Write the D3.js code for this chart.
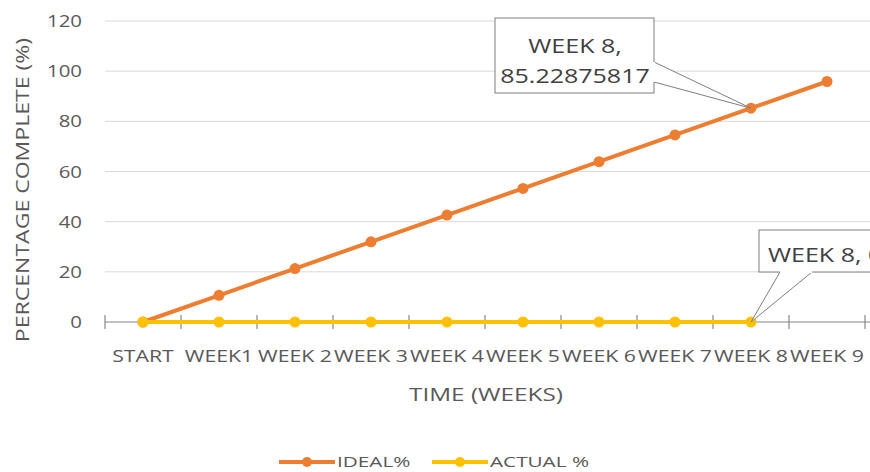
<!DOCTYPE html>
<html>
<head>
<meta charset="utf-8">
<script src="https://cdn.jsdelivr.net/npm/d3@7"></script>
<style>
  body { margin: 0; background: #fff; }
  svg { display: block; font-family: "Open Sans", "Noto Sans", sans-serif; }
</style>
</head>
<body>
<svg id="chart" width="870" height="472"></svg>
<script>
// dati
const CATEGORIES = ["START", "WEEK1", "WEEK 2", "WEEK 3", "WEEK 4",
                    "WEEK 5", "WEEK 6", "WEEK 7", "WEEK 8", "WEEK 9"];
const IDEAL  = [0, 10.65, 21.31, 31.96, 42.61, 53.27, 63.92, 74.58, 85.22875817, 95.88];
const ACTUAL = [0, 0, 0, 0, 0, 0, 0, 0, 0, null];
const Y_TICKS = [0, 20, 40, 60, 80, 100, 120];

const ORANGE = "#ED7D31";
const YELLOW = "#FFC000";
const TEXT   = "#595959";

const svg = d3.select("#chart");

const x = d3.scaleBand().domain(CATEGORIES).range([105, 865]);
const y = d3.scaleLinear().domain([0, 120]).range([322, 21]);
const cx = d => x(d) + x.bandwidth() / 2;

// il font originale è più largo: allarga il testo in orizzontale
function allarga(sel, fattore) {
  sel.each(function() {
    const w = this.getComputedTextLength();
    d3.select(this)
      .attr("textLength", w * fattore)
      .attr("lengthAdjust", "spacingAndGlyphs");
  });
  return sel;
}

/* ── griglia ─── */
svg.append("g")
  .selectAll("line")
  .data(Y_TICKS.filter(t => t > 0))
  .join("line")
  .attr("x1", 105).attr("x2", 870)
  .attr("y1", d => y(d)).attr("y2", d => y(d))
  .attr("stroke", "#d9d9d9").attr("stroke-width", 1);

/* ── asse Y (solo etichette) ─── */
allarga(svg.append("g")
  .selectAll("text")
  .data(Y_TICKS)
  .join("text")
  .attr("x", 82).attr("y", d => y(d) + 6)
  .attr("text-anchor", "end")
  .attr("fill", TEXT).attr("font-size", 17)
  .text(d => d), 1.2);

/* ── asse X ─── */
svg.append("line")
  .attr("x1", 105).attr("x2", 870)
  .attr("y1", y(0)).attr("y2", y(0))
  .attr("stroke", "#868686").attr("stroke-width", 1.2);

const bounds = CATEGORIES.map(c => x(c)).concat([x.range()[1]]);
svg.append("g")
  .selectAll("line")
  .data(bounds)
  .join("line")
  .attr("x1", d => d).attr("x2", d => d)
  .attr("y1", y(0) - 7).attr("y2", y(0) + 7)
  .attr("stroke", "#868686").attr("stroke-width", 1.2);

allarga(svg.append("g")
  .selectAll("text")
  .data(CATEGORIES)
  .join("text")
  .attr("x", d => cx(d)).attr("y", 362)
  .attr("text-anchor", "middle")
  .attr("fill", TEXT).attr("font-size", 17)
  .text(d => d), 1.25);

/* ── titoli assi ─── */
allarga(svg.append("text")
  .attr("x", 486).attr("y", 401)
  .attr("text-anchor", "middle")
  .attr("fill", TEXT).attr("font-size", 18)
  .text("TIME (WEEKS)"), 1.35);

allarga(svg.append("text")
  .attr("transform", "translate(29,190) rotate(-90)")
  .attr("text-anchor", "middle")
  .attr("fill", TEXT).attr("font-size", 18)
  .text("PERCENTAGE  COMPLETE (%)"), 1.28);

/* ── serie ─── */
function drawSeries(values, colore) {
  const pts = CATEGORIES.map((c, i) => ({ c, v: values[i] })).filter(p => p.v !== null);
  const line = d3.line().x(p => cx(p.c)).y(p => y(p.v));
  const g = svg.append("g");
  g.append("path")
    .datum(pts)
    .attr("d", line)
    .attr("fill", "none")
    .attr("stroke", colore).attr("stroke-width", 4)
    .attr("stroke-linecap", "round");
  g.selectAll("circle")
    .data(pts)
    .join("circle")
    .attr("cx", p => cx(p.c)).attr("cy", p => y(p.v))
    .attr("r", 5.5)
    .attr("fill", colore);
}
drawSeries(IDEAL, ORANGE);
drawSeries(ACTUAL, YELLOW);

/* ── callout ─── */
function callout(box, wedge, target, lines) {
  const g = svg.append("g");
  const [tx, ty] = target;
  g.append("path")
    .attr("d", `M${wedge[0][0]},${wedge[0][1]}L${tx},${ty}L${wedge[1][0]},${wedge[1][1]}`)
    .attr("fill", "#fff").attr("stroke", "#7f7f7f").attr("stroke-width", 1);
  g.append("rect")
    .attr("x", box.x).attr("y", box.y).attr("width", box.w).attr("height", box.h)
    .attr("fill", "#fff").attr("stroke", "#7f7f7f").attr("stroke-width", 1);
  // copre il bordo dove si attacca il cuneo
  g.append("line")
    .attr("x1", wedge[0][0]).attr("y1", wedge[0][1])
    .attr("x2", wedge[1][0]).attr("y2", wedge[1][1])
    .attr("stroke", "#fff").attr("stroke-width", 2);
  lines.forEach(l => {
    allarga(g.append("text")
      .attr("x", l.x).attr("y", l.y)
      .attr("text-anchor", l.anchor || "middle")
      .attr("fill", "#404040").attr("font-size", 20)
      .text(l.t), 1.25);
  });
}

const p8i = [cx("WEEK 8"), y(IDEAL[8])];
callout({ x: 495, y: 18, w: 159, h: 75 },
        [[654, 62], [654, 82]], p8i,
        [{ t: "WEEK 8,", x: 575, y: 53 }, { t: "85.22875817", x: 575, y: 83 }]);

const p8a = [cx("WEEK 8"), y(ACTUAL[8])];
callout({ x: 759, y: 230, w: 130, h: 42 },
        [[780, 272], [812, 272]], p8a,
        [{ t: "WEEK 8, 0", x: 768, y: 262, anchor: "start" }]);

/* ── legenda ─── */
const legend = [
  { nome: "IDEAL%", colore: ORANGE, x0: 279 },
  { nome: "ACTUAL %", colore: YELLOW, x0: 432 }
];
const lg = svg.append("g");
legend.forEach(l => {
  lg.append("line")
    .attr("x1", l.x0).attr("x2", l.x0 + 56)
    .attr("y1", 462).attr("y2", 462)
    .attr("stroke", l.colore).attr("stroke-width", 4);
  lg.append("circle")
    .attr("cx", l.x0 + 28).attr("cy", 462).attr("r", 5)
    .attr("fill", l.colore);
  allarga(lg.append("text")
    .attr("x", l.x0 + 58).attr("y", 467)
    .attr("fill", TEXT).attr("font-size", 15)
    .text(l.nome), 1.38);
});
</script>
</body>
</html>
